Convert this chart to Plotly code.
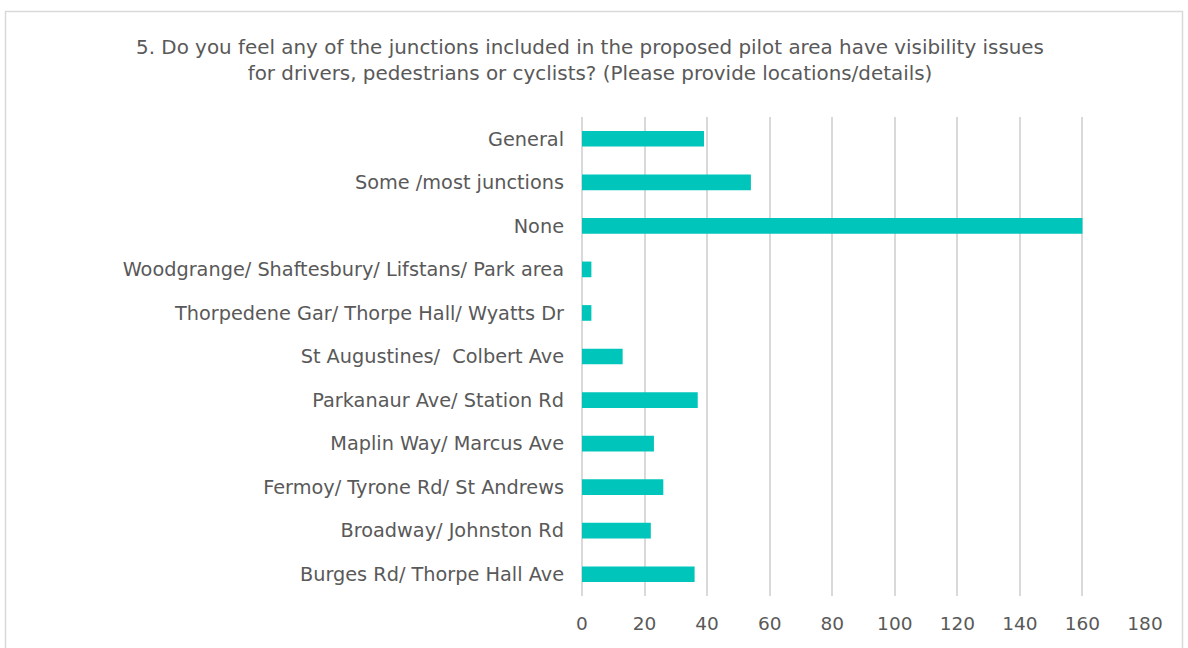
import plotly.graph_objects as go

categories = [
    "General",
    "Some /most junctions",
    "None",
    "Woodgrange/ Shaftesbury/ Lifstans/ Park area",
    "Thorpedene Gar/ Thorpe Hall/ Wyatts Dr",
    "St Augustines/  Colbert Ave",
    "Parkanaur Ave/ Station Rd",
    "Maplin Way/ Marcus Ave",
    "Fermoy/ Tyrone Rd/ St Andrews",
    "Broadway/ Johnston Rd",
    "Burges Rd/ Thorpe Hall Ave",
]
values = [39, 54, 160, 3, 3, 13, 37, 23, 26, 22, 36]
tick_vals = list(range(0, 181, 20))

W, H = 1188, 648
L, R, T, B = 582, 43, 117, 52
FONT = "DejaVu Sans, sans-serif"

fig = go.Figure(go.Bar(
    y=categories, x=values, orientation="h",
    marker=dict(color="#00C5BA", line=dict(width=0)),
    width=0.36,
))

fig.update_layout(
    width=W, height=H,
    margin=dict(l=L, r=R, t=T, b=B),
    paper_bgcolor="white", plot_bgcolor="white",
    font=dict(family=FONT, color="#595959"),
    showlegend=False,
    title=dict(
        text="5. Do you feel any of the junctions included in the proposed pilot area have visibility issues<br>for drivers, pedestrians or cyclists? (Please provide locations/details)",
        x=590 / W, xref="container", xanchor="center",
        y=1 - 54 / H, yanchor="middle",
        font=dict(size=19.9, color="#595959", family=FONT),
    ),
    xaxis=dict(
        range=[0, 180], tickvals=tick_vals, showgrid=True,
        gridcolor="#D9D9D9", gridwidth=1.5, zeroline=True, zerolinecolor="#D9D9D9",
        zerolinewidth=1.5, showline=False, ticks="",
        tickfont=dict(size=18.5, color="#595959"), ticklabelstandoff=14,
    ),
    yaxis=dict(
        autorange="reversed", showgrid=False, ticks="", showline=False,
        tickfont=dict(size=19.3, color="#595959"), ticklabelstandoff=17,
    ),
)

pw = W - L - R
ph = H - T - B
def px2x(px):
    return (px - L) / pw
def py2y(py):
    return (H - B - py) / ph

fig.add_shape(type="rect", xref="paper", yref="paper",
              x0=px2x(5.5), x1=px2x(1182.5), y0=py2y(660), y1=py2y(11.5),
              line=dict(color="#D9D9D9", width=1.5), fillcolor="rgba(0,0,0,0)", layer="below")

fig.write_html("out.html", config={"displayModeBar": False},
               post_script="document.body.style.margin='0';")
